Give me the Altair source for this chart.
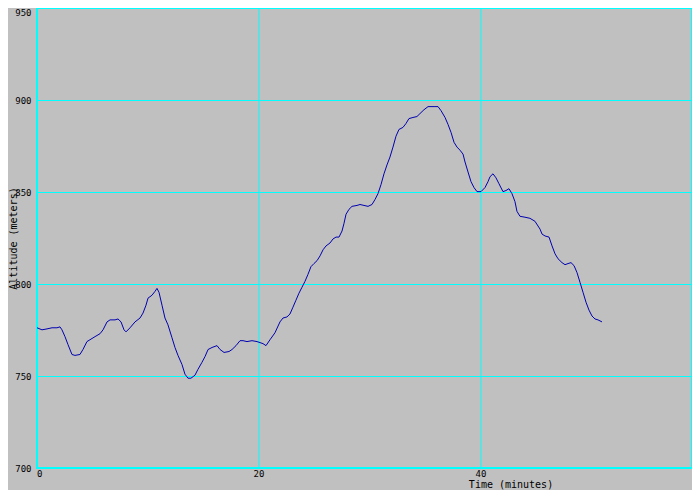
import altair as alt
import pandas as pd

time_min = [0, 0.45, 0.9, 1.35, 1.8, 2.07, 2.25, 2.52, 2.79, 3.15, 3.42, 3.87, 4.14, 4.5, 4.77,
            5.23, 5.68, 5.95, 6.31, 6.58, 7.03, 7.3, 7.57, 7.84, 8.02, 8.38, 8.83, 9.28, 9.55,
            9.82, 10.0, 10.36, 10.63, 10.81, 10.99, 11.26, 11.53, 11.8, 12.16, 12.43, 12.7,
            13.06, 13.33, 13.6, 13.87, 14.23, 14.5, 14.86, 15.14, 15.41, 15.77, 16.22, 16.49,
            16.85, 17.3, 17.57, 17.93, 18.29, 18.56, 18.92, 19.37, 19.82, 20.36, 20.63, 20.99,
            21.44, 21.89, 22.16, 22.52, 22.79, 23.06, 23.33, 23.6, 23.87, 24.14, 24.41, 24.68,
            24.95, 25.23, 25.5, 25.77, 26.04, 26.4, 26.67, 26.94, 27.21, 27.48, 27.66, 27.84,
            28.11, 28.38, 28.83, 29.1, 29.46, 29.82, 30.18, 30.45, 30.72, 30.99, 31.26, 31.53,
            31.8, 32.07, 32.34, 32.61, 32.97, 33.24, 33.51, 33.87, 34.23, 34.5, 34.86, 35.23,
            35.77, 36.13, 36.4, 36.76, 37.03, 37.3, 37.57, 37.84, 38.11, 38.38, 38.56, 38.83,
            39.1, 39.37, 39.64, 40.0, 40.36, 40.63, 40.81, 41.08, 41.35, 41.62, 41.98, 42.25,
            42.52, 42.79, 43.06, 43.24, 43.51, 43.96, 44.41, 44.86, 45.32, 45.5, 45.77, 46.13,
            46.4, 46.67, 46.94, 47.3, 47.57, 47.84, 48.11, 48.38, 48.65, 48.92, 49.19, 49.46,
            49.73, 50.0, 50.27, 50.54, 50.9]

altitude_m = [776.2, 775.1, 775.6, 776.2, 776.2, 776.7, 775.1, 771.4, 767.1, 761.7, 761.2, 761.7,
              764.4, 768.7, 769.7, 771.4, 773.0, 775.1, 779.4, 780.5, 780.5, 781.0, 779.4, 775.1,
              774.0, 776.2, 779.4, 781.5, 784.2, 788.5, 792.3, 793.9, 796.0, 797.6, 795.5, 788.5,
              781.5, 777.8, 770.8, 765.5, 761.2, 756.3, 751.0, 748.8, 748.8, 750.4, 753.6, 757.4,
              760.6, 764.4, 765.5, 766.5, 764.4, 762.8, 763.3, 764.4, 766.5, 769.2, 769.2, 768.7,
              769.2, 768.7, 767.6, 766.5, 769.7, 773.5, 779.4, 781.5, 782.1, 783.7, 787.4, 791.2,
              795.0, 798.2, 801.4, 805.2, 809.4, 811.1, 812.7, 815.3, 818.6, 820.7, 822.3, 824.5,
              825.5, 825.5, 828.8, 833.0, 837.9, 840.6, 842.2, 842.7, 843.2, 842.7, 842.2, 843.2,
              845.9, 849.1, 854.0, 859.9, 864.7, 869.0, 874.4, 880.3, 884.0, 885.1, 887.2, 889.9,
              890.5, 891.0, 892.6, 894.7, 896.4, 896.4, 896.4, 894.2, 890.5, 886.7, 882.4, 877.0,
              874.4, 872.7, 870.6, 866.3, 860.9, 855.6, 852.4, 850.2, 850.2, 852.4, 855.6, 858.3,
              859.9, 857.7, 854.5, 850.2, 850.8, 851.8, 849.1, 844.8, 839.5, 836.8, 836.3, 835.7,
              834.1, 829.8, 827.1, 826.1, 825.5, 820.7, 816.4, 813.7, 811.6, 810.5, 811.1, 811.6,
              810.0, 806.2, 800.9, 795.5, 790.1, 785.8, 782.6, 781.0, 780.5, 779.4]

x_ticks = [0, 20, 40, 60]
y_ticks = [700, 750, 800, 850, 900, 950]

df = pd.DataFrame({"time": time_min, "alt": altitude_m})

FONT = "DejaVu Sans Mono"
CYAN = "#00ffff"

chart = alt.Chart(df).mark_line(color="#0000b0", strokeWidth=1).encode(
    x=alt.X("time:Q", scale=alt.Scale(domain=[0, 59.009009], nice=False, zero=False),
            axis=alt.Axis(values=x_ticks, title="Time (minutes)", grid=True,
                          gridColor=CYAN, gridWidth=1, gridOpacity=1, translate=0,
                          ticks=False, domain=False, labelPadding=2,
                          labelFont=FONT, labelFontSize=9, labelColor="black",
                          titleFont=FONT, titleFontSize=10, titleFontWeight="normal",
                          titleColor="black", titleX=474, titleY=17,
                          titleBaseline="middle", titleAlign="center")),
    y=alt.Y("alt:Q", scale=alt.Scale(domain=[700, 950], nice=False, zero=False),
            axis=alt.Axis(values=y_ticks, title="Altitude (meters)", grid=True,
                          gridColor=CYAN, gridWidth=1, gridOpacity=1,
                          ticks=False, domain=False, labelPadding=6,
                          labelBaseline={"condition": {"test": "datum.value == 950", "value": "top"},
                                         "value": "middle"},
                          labelFont=FONT, labelFontSize=9, labelColor="black",
                          titleFont=FONT, titleFontSize=10, titleFontWeight="normal",
                          titleColor="black", titleX=-24, titleY=230,
                          titleBaseline="middle", titleAlign="center", titleAngle=270)),
).properties(
    width=655,
    height=460,
    background="#c0c0c0",
    padding={"left": 29, "top": 0, "right": 0, "bottom": 22},
    autosize=alt.AutoSizeParams(type="none"),
).configure_view(
    fill="#c0c0c0", stroke=CYAN, strokeWidth=2
)

chart.save("out.html", embed_options={"renderer": "svg", "actions": False})
